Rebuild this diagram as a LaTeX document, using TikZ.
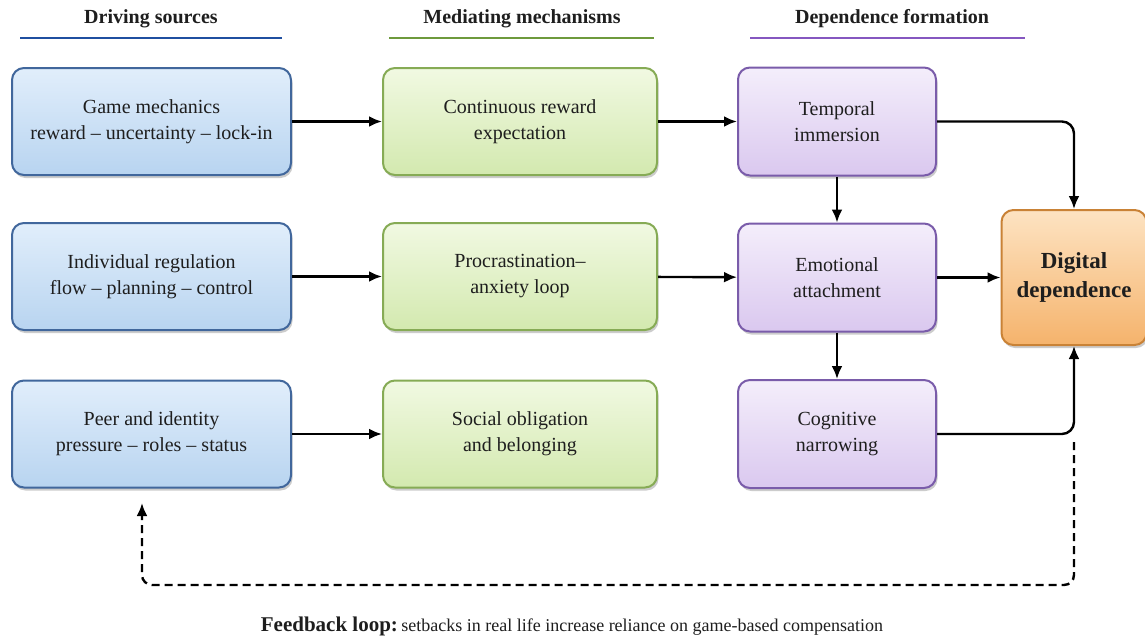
\documentclass[tikz,border=0pt]{standalone}
\usepackage{fontspec}
\setmainfont{Liberation Serif}
\usetikzlibrary{arrows.meta,shadows,positioning}
\definecolor{bluebd}{HTML}{41679C}
\definecolor{bluetop}{HTML}{E1EEFB}
\definecolor{bluebot}{HTML}{B8D4F0}
\definecolor{greenbd}{HTML}{86AB55}
\definecolor{greentop}{HTML}{F1F9E2}
\definecolor{greenbot}{HTML}{D3E9AF}
\definecolor{purpbd}{HTML}{7A5CAA}
\definecolor{purptop}{HTML}{F4EEFB}
\definecolor{purpbot}{HTML}{DAC8EF}
\definecolor{orbd}{HTML}{C98236}
\definecolor{ortop}{HTML}{FDE3C2}
\definecolor{orbot}{HTML}{F5B36C}
\definecolor{hblue}{HTML}{1F4FA0}
\definecolor{hgreen}{HTML}{6E9A3C}
\definecolor{hpurp}{HTML}{8557C0}
\definecolor{txt}{HTML}{1E1E1E}
\tikzset{
  box/.style={rounded corners=12pt, line width=2pt, align=center, text=txt,
    font=\rmfamily\fontsize{20}{26}\selectfont,
    drop shadow={shadow xshift=1.5pt, shadow yshift=-3pt, opacity=0.4}},
  bluebox/.style={box, draw=bluebd, top color=bluetop, bottom color=bluebot,
    minimum width=279pt, minimum height=107pt},
  greenbox/.style={box, draw=greenbd, top color=greentop, bottom color=greenbot,
    minimum width=274pt, minimum height=107pt},
  purpbox/.style={box, draw=purpbd, top color=purptop, bottom color=purpbot,
    minimum width=198pt, minimum height=108pt},
  orbox/.style={box, draw=orbd, top color=ortop, bottom color=orbot,
    minimum width=145pt, minimum height=135pt, font=\rmfamily\bfseries\fontsize{23}{29}\selectfont},
  head/.style={font=\rmfamily\bfseries\fontsize{20}{24}\selectfont, text=txt},
  arr/.style={line width=2.4pt, draw=black, -{Latex[length=13pt,width=11pt]}},
  fb/.style={arr, dash pattern=on 8pt off 5pt, rounded corners=10pt},
}
\begin{document}
\begin{tikzpicture}[x=1pt,y=-1pt]
\useasboundingbox[fill=white] (0,0) rectangle (1145,640);

% headers
\node[head] (h1) at (151,19) {Driving sources};
\node[head] (h2) at (522,19) {Mediating mechanisms};
\node[head] (h3) at (892,19) {Dependence formation};
\draw[hblue, line width=2.2pt] (20,38) -- (282,38);
\draw[hgreen, line width=2.2pt] (389,38) -- (654,38);
\draw[hpurp, line width=2.2pt] (750,38) -- (1025,38);

% column 1
\node[bluebox] (g1) at (151.5,121.5) {Game mechanics\\reward -- uncertainty -- lock-in};
\node[bluebox] (g2) at (151.5,276.5) {Individual regulation\\flow -- planning -- control};
\node[bluebox] (g3) at (151.5,434) {Peer and identity\\pressure -- roles -- status};

% column 2
\node[greenbox] (m1) at (520,121.5) {Continuous reward\\expectation};
\node[greenbox] (m2) at (520,276.5) {Procrastination--\\anxiety loop};
\node[greenbox] (m3) at (520,434) {Social obligation\\and belonging};

% column 3
\node[purpbox] (t) at (837,121.5) {Temporal\\immersion};
\node[purpbox] (e) at (837,277.5) {Emotional\\attachment};
\node[purpbox] (c) at (837,434) {Cognitive\\narrowing};

% outcome
\node[orbox] (dd) at (1074,277.5) {Digital\\dependence};

% arrows
\draw[arr] (g1) -- (m1);
\draw[arr] (g2) -- (m2);
\draw[arr] (g3) -- (m3);
\draw[arr] (m1) -- (t);
\draw[arr] (m2) -- (e);
\draw[arr] (e) -- (dd);
\draw[arr] (t) -- (e);
\draw[arr] (e) -- (c);
\draw[arr, rounded corners=12pt] (t.east) -| (dd.north);
\draw[arr, rounded corners=12pt] (c.east) -| (dd.south);

% feedback loop
\coordinate (fbs) at (1074,442);
\coordinate (fbe) at (142,503);
\draw[fb] (fbs) -- (1074,585) -- (142,585) -- (fbe);

\node[text=txt, font=\rmfamily] (fbt) at (572,626) {{\bfseries\fontsize{21}{24}\selectfont Feedback loop:} \fontsize{18}{22}\selectfont setbacks in real life increase reliance on game-based compensation};
\end{tikzpicture}
\end{document}
